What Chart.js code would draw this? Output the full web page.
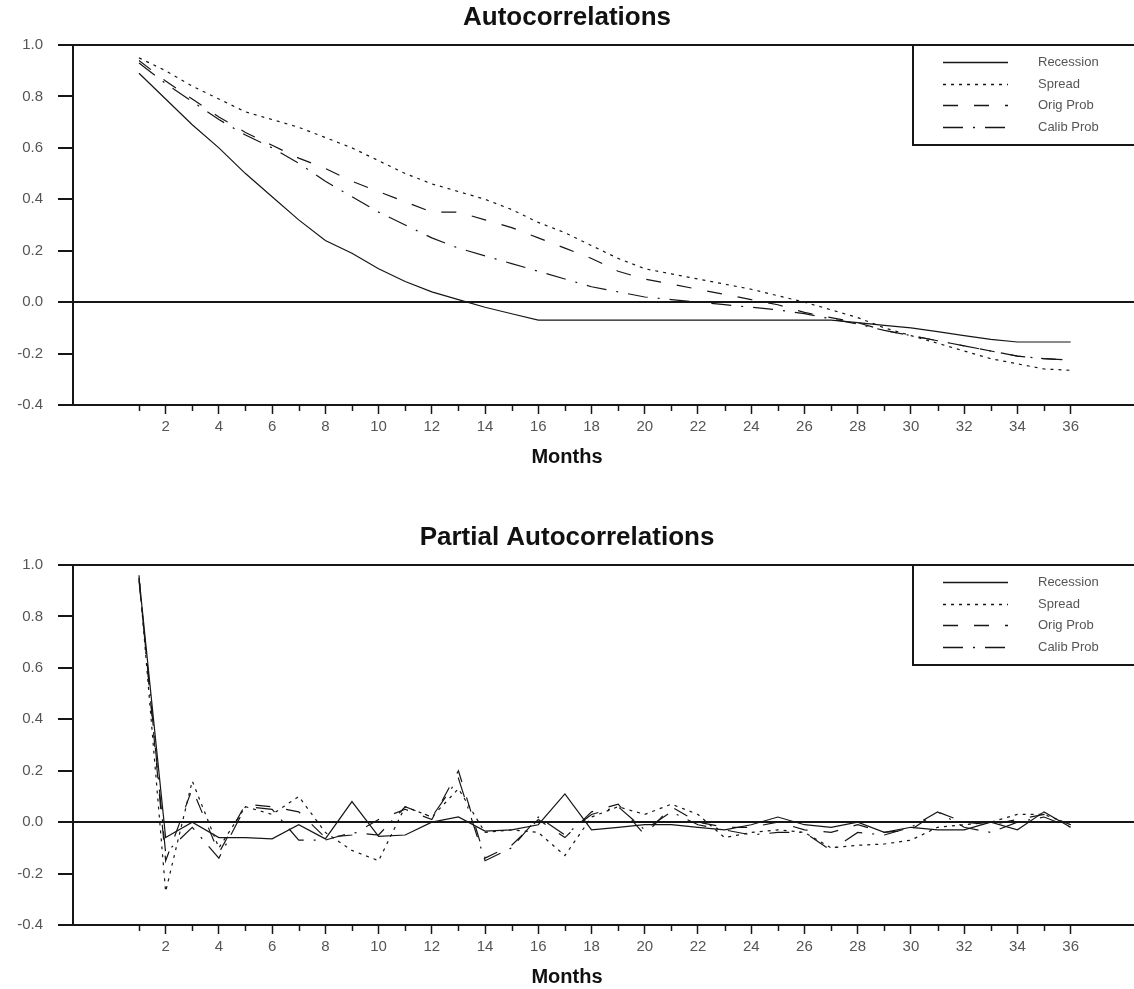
<!DOCTYPE html>
<html>
<head>
<meta charset="utf-8">
<script src="https://cdn.jsdelivr.net/npm/chart.js@4.4.1/dist/chart.umd.min.js"></script>
<style>
  html, body { margin: 0; padding: 0; background: #fff; overflow: hidden; }
  .panel { position: absolute; left: 0; width: 1134px; height: 490px; }
  #topPanel { top: 0; }
  #bottomPanel { top: 520px; }
</style>
</head>
<body>
<div class="panel" id="topPanel"><canvas id="acfChart"></canvas></div>
<div class="panel" id="bottomPanel"><canvas id="pacfChart"></canvas></div>
<script>
// Lags (months) on the x axis
const months = [1, 2, 3, 4, 5, 6, 7, 8, 9, 10, 11, 12, 13, 14, 15, 16, 17, 18,
  19, 20, 21, 22, 23, 24, 25, 26, 27, 28, 29, 30, 31, 32, 33, 34, 35, 36];
const seriesNames = ['Recession', 'Spread', 'Orig Prob', 'Calib Prob'];
const yTicks = [-0.4, -0.2, 0.0, 0.2, 0.4, 0.6, 0.8, 1.0];

// Autocorrelations
const acfRecession = [0.89, 0.79, 0.69, 0.60, 0.50, 0.41, 0.32, 0.24, 0.19, 0.13, 0.08, 0.04,
  0.01, -0.02, -0.045, -0.07, -0.07, -0.07, -0.07, -0.07, -0.07, -0.07, -0.07, -0.07,
  -0.07, -0.07, -0.07, -0.08, -0.09, -0.10, -0.115, -0.13, -0.145, -0.155, -0.155, -0.155];
const acfSpread = [0.95, 0.90, 0.84, 0.79, 0.74, 0.71, 0.68, 0.64, 0.60, 0.55, 0.50, 0.46,
  0.43, 0.40, 0.36, 0.31, 0.27, 0.22, 0.17, 0.13, 0.11, 0.09, 0.07, 0.05,
  0.025, 0.00, -0.03, -0.06, -0.10, -0.13, -0.16, -0.19, -0.22, -0.24, -0.26, -0.265];
const acfOrig = [0.94, 0.86, 0.79, 0.72, 0.66, 0.61, 0.56, 0.52, 0.47, 0.43, 0.39, 0.35,
  0.35, 0.32, 0.29, 0.25, 0.21, 0.17, 0.12, 0.09, 0.07, 0.05, 0.03, 0.01,
  -0.01, -0.04, -0.06, -0.08, -0.11, -0.13, -0.15, -0.17, -0.19, -0.21, -0.22, -0.225];
const acfCalib = [0.93, 0.85, 0.78, 0.71, 0.65, 0.60, 0.54, 0.47, 0.41, 0.35, 0.30, 0.25,
  0.21, 0.18, 0.15, 0.12, 0.09, 0.06, 0.04, 0.02, 0.01, 0.00, -0.01, -0.02,
  -0.03, -0.045, -0.065, -0.085, -0.11, -0.13, -0.15, -0.17, -0.19, -0.21, -0.22, -0.225];

// Partial autocorrelations
const pacfRecession = [0.95, -0.06, 0.00, -0.06, -0.06, -0.065, -0.01, -0.065, 0.08, -0.055, -0.05, 0.00,
  0.02, -0.035, -0.03, -0.01, 0.11, -0.03, -0.02, -0.01, -0.01, -0.02, -0.03, -0.01,
  0.02, -0.01, -0.02, 0.00, -0.04, -0.02, -0.03, -0.03, 0.00, -0.03, 0.04, -0.02];
const pacfSpread = [0.96, -0.27, 0.16, -0.10, 0.06, 0.03, 0.10, -0.04, -0.11, -0.15, 0.06, 0.02,
  0.13, -0.04, -0.03, -0.04, -0.13, 0.02, 0.06, 0.03, 0.07, 0.03, -0.06, -0.04,
  -0.03, -0.04, -0.10, -0.09, -0.085, -0.07, -0.02, -0.01, 0.00, 0.03, 0.03, -0.01];
const pacfOrig = [0.95, -0.15, 0.13, -0.12, 0.07, 0.06, 0.04, -0.06, -0.05, 0.01, 0.05, 0.01,
  0.20, -0.14, -0.09, 0.01, -0.06, 0.04, 0.07, -0.05, 0.06, 0.00, -0.02, -0.02,
  0.00, -0.03, -0.04, -0.01, -0.04, -0.03, 0.04, 0.00, -0.01, 0.01, 0.03, -0.01];
const pacfCalib = [0.94, -0.12, -0.02, -0.14, 0.06, 0.05, -0.07, -0.07, -0.04, -0.05, 0.06, 0.02,
  0.17, -0.15, -0.10, 0.02, -0.05, 0.03, 0.06, -0.03, 0.04, -0.01, -0.03, -0.05,
  -0.04, -0.04, -0.11, -0.04, -0.05, -0.02, 0.04, -0.02, -0.04, 0.00, 0.02, -0.02];

// line styles: solid, dotted, dashed, dash-dot
const lineDashes = [[], [3, 5], [15, 16], [20, 10, 2, 10]];
const ink = '#161616';

Chart.defaults.font.family = '"Liberation Sans", Arial, sans-serif';

// minor ticks at odd months plus the boxed legend in the top right corner
const extrasPlugin = {
  id: 'extras',
  afterDraw(chart) {
    const { ctx, chartArea } = chart;
    const xScale = chart.scales.x;
    ctx.save();

    ctx.strokeStyle = ink;
    ctx.lineWidth = 1.5;
    months.filter(m => m % 2 === 1).forEach(m => {
      const px = Math.round(xScale.getPixelForValue(m)) + 0.5;
      ctx.beginPath();
      ctx.moveTo(px, chartArea.bottom);
      ctx.lineTo(px, chartArea.bottom + 6);
      ctx.stroke();
    });

    const left = chartArea.right - 221;
    const top = chartArea.top;
    const bottom = top + 100;
    ctx.fillStyle = '#fff';
    ctx.fillRect(left, top + 1, chartArea.right - left, bottom - top - 1);
    ctx.lineWidth = 2;
    ctx.beginPath();
    ctx.moveTo(left, top);
    ctx.lineTo(left, bottom);
    ctx.lineTo(chartArea.right, bottom);
    ctx.stroke();

    ctx.font = '13px "Liberation Sans", Arial, sans-serif';
    ctx.textBaseline = 'middle';
    ctx.textAlign = 'left';
    chart.data.datasets.forEach((ds, i) => {
      const y = Math.round(top + 17 + i * 21.5) + 0.5;
      ctx.strokeStyle = ink;
      ctx.lineWidth = 1.5;
      ctx.setLineDash(ds.borderDash);
      ctx.beginPath();
      ctx.moveTo(left + 30, y);
      ctx.lineTo(left + 95, y);
      ctx.stroke();
      ctx.setLineDash([]);
      ctx.fillStyle = '#555';
      ctx.fillText(ds.label, left + 125, y);
    });
    ctx.restore();
  }
};

function makeChart(canvasId, title, series) {
  const datasets = series.map((values, i) => ({
    label: seriesNames[i],
    data: values.map((v, j) => ({ x: months[j], y: v })),
    borderColor: ink,
    borderWidth: 1.2,
    borderDash: lineDashes[i],
    pointRadius: 0,
    fill: false,
    tension: 0
  }));

  return new Chart(document.getElementById(canvasId), {
    type: 'line',
    data: { datasets: datasets },
    options: {
      responsive: true,
      maintainAspectRatio: false,
      animation: false,
      layout: { padding: 0 },
      plugins: {
        legend: { display: false },
        tooltip: { enabled: false },
        title: {
          display: true,
          text: title,
          color: '#111',
          font: { size: 26, weight: 'bold' },
          padding: { top: 2, bottom: 11.8 }
        },
        subtitle: {
          display: true,
          position: 'bottom',
          text: 'Months',
          color: '#111',
          font: { size: 20, weight: 'bold' },
          padding: { top: 5, bottom: 21 }
        }
      },
      scales: {
        x: {
          type: 'linear',
          min: -1.48,
          max: 38.38,
          afterBuildTicks: scale => { scale.ticks = months.map(v => ({ value: v })); },
          afterFit: scale => { scale.height = 35; },
          ticks: {
            autoSkip: false,
            maxRotation: 0,
            padding: 4,
            color: '#555',
            font: { size: 15 },
            callback: v => (v % 2 === 0 ? String(v) : '')
          },
          grid: {
            drawOnChartArea: false,
            tickLength: 9,
            tickWidth: 1.5,
            tickColor: c => (c.tick && c.tick.value % 2 === 0 ? ink : 'rgba(0,0,0,0)')
          },
          border: { color: ink, width: 2 }
        },
        y: {
          min: -0.4,
          max: 1.0,
          afterBuildTicks: scale => { scale.ticks = yTicks.map(v => ({ value: v })); },
          afterFit: scale => { scale.width = 73; },
          ticks: {
            padding: 15,
            color: '#555',
            font: { size: 15 },
            callback: v => v.toFixed(1)
          },
          grid: {
            drawOnChartArea: true,
            lineWidth: 2,
            tickLength: 15,
            tickWidth: 2,
            tickColor: ink,
            // only the zero line and the top frame line show inside the plot
            color: c => {
              const v = c.tick ? c.tick.value : NaN;
              return (Math.abs(v) < 1e-9 || Math.abs(v - 1) < 1e-9) ? ink : 'rgba(0,0,0,0)';
            }
          },
          border: { color: ink, width: 2 }
        }
      }
    },
    plugins: [extrasPlugin]
  });
}

makeChart('acfChart', 'Autocorrelations', [acfRecession, acfSpread, acfOrig, acfCalib]);
makeChart('pacfChart', 'Partial Autocorrelations', [pacfRecession, pacfSpread, pacfOrig, pacfCalib]);
</script>
</body>
</html>
